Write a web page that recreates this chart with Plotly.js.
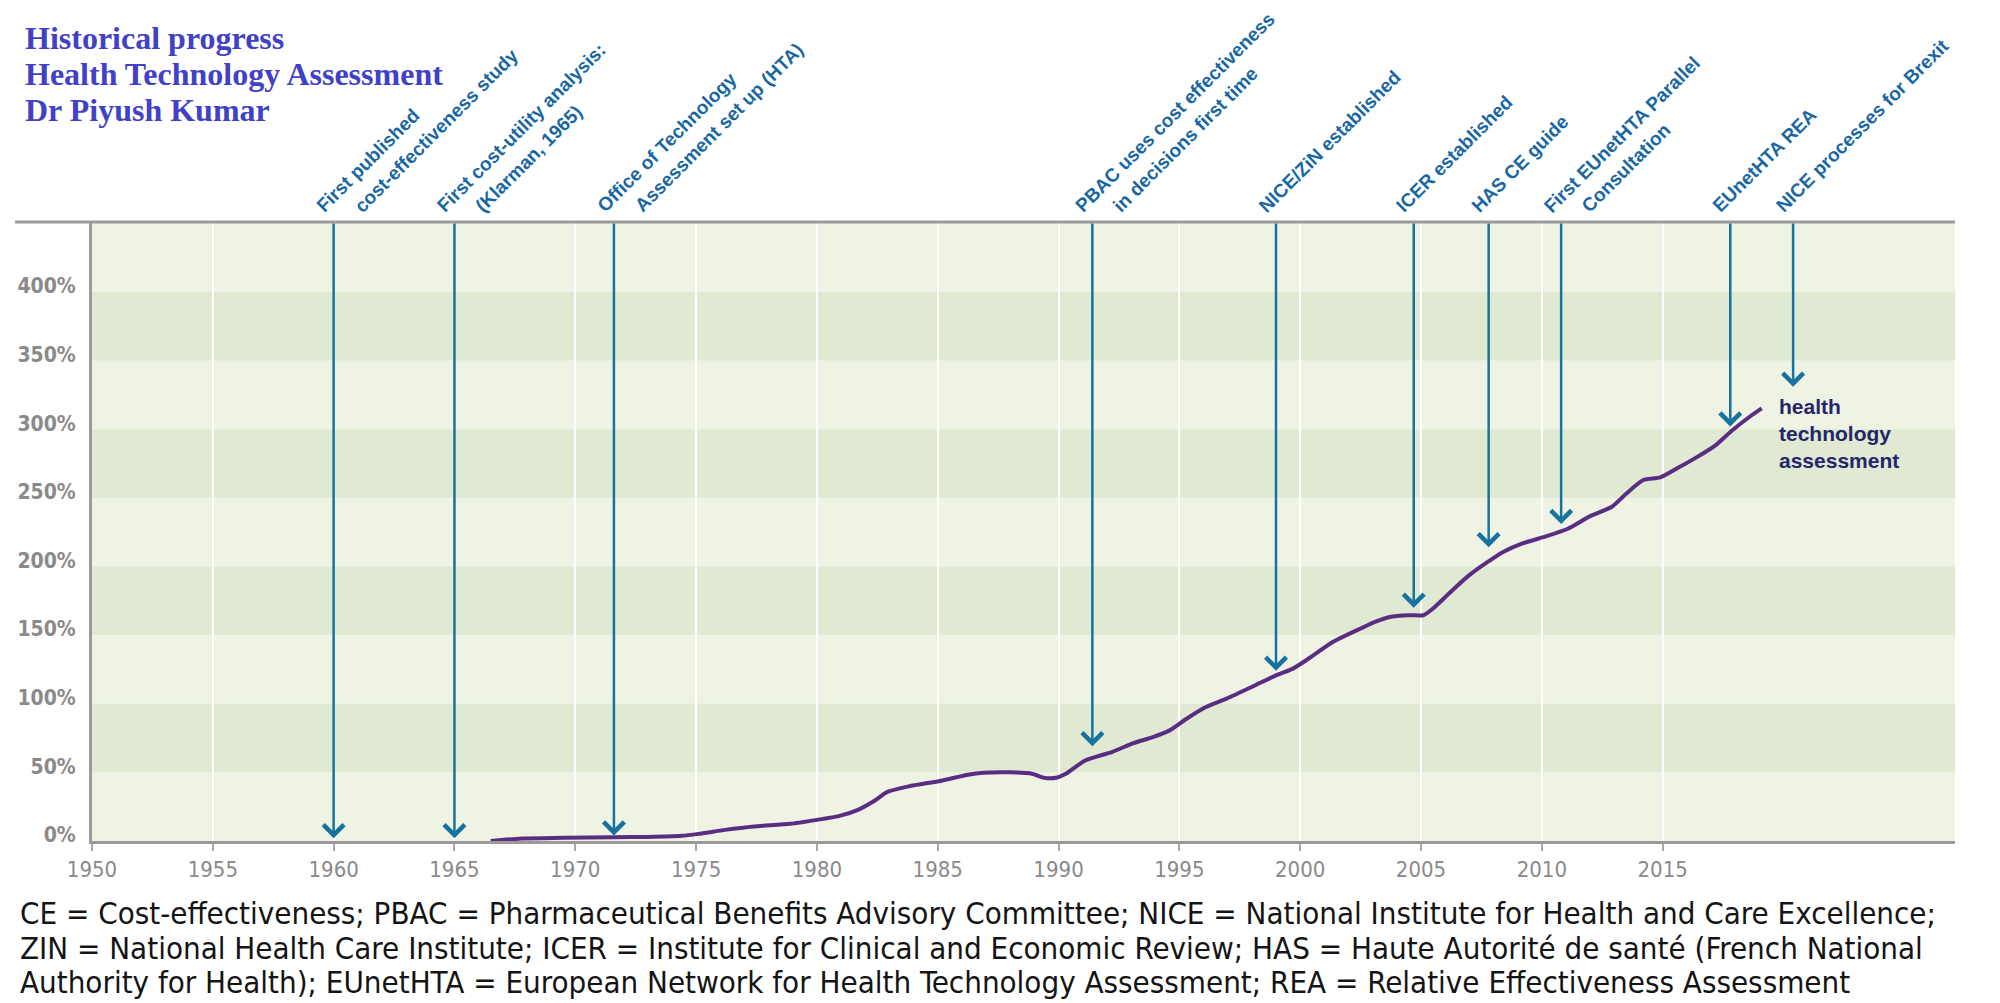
<!DOCTYPE html>
<html>
<head>
<meta charset="utf-8">
<script src="https://cdn.plot.ly/plotly-3.0.1.min.js"></script>
<style>html,body{margin:0;padding:0;background:#fff;}#chart{width:2000px;height:1003px;}</style>
</head>
<body>
<div id="chart"></div>
<script>
// ---- data ----
const years = [1966.5, 1967.8, 1969.5, 1971.6, 1973.0, 1974.4, 1975.1, 1976.2, 1977.4, 1978.9, 1980.0, 1980.9, 1981.7, 1982.4, 1982.9, 1983.8, 1985.2, 1986.25, 1986.9, 1988.0, 1988.9, 1989.4, 1989.9, 1990.3, 1991.1, 1992.2, 1993.1, 1993.9, 1994.6, 1995.3, 1996.1, 1996.95, 1998.05, 1999.0, 1999.7, 2000.25, 2001.35, 2002.5, 2003.1, 2003.7, 2004.5, 2005.1, 2005.5, 2006.3, 2007.0, 2007.7, 2008.4, 2009.2, 2010.2, 2011.1, 2012.0, 2012.9, 2013.5, 2014.2, 2014.9, 2015.6, 2016.4, 2017.2, 2017.9, 2018.6, 2019.1];
const htaValues = [0, 1.8, 2.3, 2.8, 3.0, 3.8, 5.2, 8.1, 10.6, 12.5, 15.4, 18.1, 22.7, 29.5, 35.6, 39.8, 44.1, 48.3, 49.7, 50, 49, 46.1, 46.1, 49, 58.7, 64.8, 71.3, 75.7, 80.6, 89.1, 97.6, 103.7, 112.7, 120.7, 125.6, 131.7, 145, 154.8, 159.6, 163.2, 164.5, 164.5, 169.4, 182.7, 193.7, 202.6, 210.6, 216.8, 222.1, 227.7, 236.7, 243.5, 253.2, 263, 264.9, 271.5, 279.5, 288.5, 299.4, 309.1, 315.2];

const eventYears = [1960, 1965, 1971.6, 1991.4, 1999.0, 2004.7, 2007.8, 2010.8, 2017.8, 2020.4];
const eventTips  = [2, 2, 4, 69, 124, 170, 214, 231, 302, 331];
const eventLine1 = ["First published", "First cost-utility analysis:", "Office of Technology", "PBAC uses cost effectiveness", "NICE/ZiN established", "ICER established", "HAS CE guide", "First EUnetHTA Parallel", "EUnetHTA REA", "NICE processes for Brexit"];
const eventLine2 = ["cost-effectiveness study", "(Klarman, 1965)", "Assessment set up (HTA)", "in decisions first time", "", "", "", "Consultation", "", ""];

const xTickYears = [1950, 1955, 1960, 1965, 1970, 1975, 1980, 1985, 1990, 1995, 2000, 2005, 2010, 2015];
const yTickValues = [0, 50, 100, 150, 200, 250, 300, 350, 400];
const yTickText = yTickValues.map(v => v + "%");
const darkBands = [[50, 100], [150, 200], [250, 300], [350, 400]];

const seriesLabel = ["health", "technology", "assessment"];
const titleLines = ["Historical progress", "Health Technology Assessment", "Dr Piyush Kumar"];
const footerLines = [
  "CE = Cost-effectiveness; PBAC = Pharmaceutical Benefits Advisory Committee; NICE = National Institute for Health and Care Excellence;",
  "ZIN = National Health Care Institute; ICER = Institute for Clinical and Economic Review; HAS = Haute Autorité de santé (French National",
  "Authority for Health); EUnetHTA = European Network for Health Technology Assessment; REA = Relative Effectiveness Assessment"
];

// ---- styles ----
const COND = "DejaVu Sans Condensed, DejaVu Sans, sans-serif";
const LABEL_FONT = "Liberation Sans, Arial, sans-serif";
const Y_TOP = 451;
const arrowColor = "#17729f";
const labelColor = "#1867a3";

const shapes = [];
darkBands.forEach(b => shapes.push({
  type: "rect", xref: "paper", yref: "y", x0: 0, x1: 1, y0: b[0], y1: b[1],
  fillcolor: "#e0ead2", line: {width: 0}, layer: "below"
}));
shapes.push({type: "line", xref: "paper", yref: "paper", x0: -0.0413, x1: 1, y0: 1, y1: 1,
  line: {color: "#9a9a9a", width: 3}});

const annotations = [];
eventYears.forEach((yr, i) => {
  annotations.push({
    x: yr, y: eventTips[i], xref: "x", yref: "y",
    ax: yr, ay: Y_TOP, axref: "x", ayref: "y",
    showarrow: true, arrowhead: 4, arrowsize: 1.6, arrowwidth: 2.5,
    arrowcolor: arrowColor, text: "", standoff: 0
  });
  annotations.push({
    x: yr, y: 1, xref: "x", yref: "paper", xanchor: "left", yanchor: "bottom",
    xshift: -24, yshift: 3, textangle: -45, showarrow: false,
    text: eventLine1[i], font: {family: LABEL_FONT, size: 19, color: labelColor, weight: 700}
  });
  if (eventLine2[i]) {
    annotations.push({
      x: yr, y: 1, xref: "x", yref: "paper", xanchor: "left", yanchor: "bottom",
      xshift: 14, yshift: 3, textangle: -45, showarrow: false,
      text: eventLine2[i], font: {family: LABEL_FONT, size: 19, color: labelColor, weight: 700}
    });
  }
});

seriesLabel.forEach((t, i) => annotations.push({
  x: 2019.74, y: 316.5, xref: "x", yref: "y", xanchor: "left", yanchor: "middle",
  yshift: -26.7 * i, showarrow: false, text: t,
  font: {family: LABEL_FONT, size: 21, color: "#25256b", weight: 700}
}));

const titleY = [1.2968, 1.2391, 1.1814];
titleLines.forEach((t, i) => annotations.push({
  x: -0.037, y: titleY[i], xref: "paper", yref: "paper", xanchor: "left", yanchor: "middle",
  showarrow: false, text: t,
  font: {family: "Liberation Serif, Times New Roman, serif", size: 32, color: "#4141c6", weight: 700}
}));

const footY = [-0.1163, -0.1729, -0.2278];
footerLines.forEach((t, i) => annotations.push({
  x: -0.0397, y: footY[i], xref: "paper", yref: "paper", xanchor: "left", yanchor: "middle",
  showarrow: false, text: t,
  font: {family: COND, size: 31, color: "#141414"}
}));

const trace = {
  x: years, y: htaValues, type: "scatter", mode: "lines",
  line: {color: "#5a2c82", width: 4, shape: "spline", smoothing: 0.6},
  cliponaxis: false, hoverinfo: "skip", showlegend: false
};

const layout = {
  width: 2000, height: 1003,
  margin: {l: 92, r: 45, t: 222, b: 162, pad: 0},
  paper_bgcolor: "#ffffff", plot_bgcolor: "#eef3e3",
  showlegend: false,
  xaxis: {
    range: [1950, 2027.1], tickvals: xTickYears, tickformat: "d",
    ticks: "outside", ticklen: 7, tickwidth: 2, tickcolor: "#a8a8a8",
    showgrid: true, gridcolor: "#ffffff", gridwidth: 2,
    showline: true, linecolor: "#9a9a9a", linewidth: 3, zeroline: false,
    tickfont: {family: COND, size: 22, color: "#8a8a8a"},
    ticklabelstandoff: 0, fixedrange: true
  },
  yaxis: {
    range: [0, Y_TOP], tickvals: yTickValues, ticktext: yTickText, tickmode: "array",
    ticks: "", showgrid: false, zeroline: false,
    showline: true, linecolor: "#9a9a9a", linewidth: 3,
    tickfont: {family: COND, size: 21, color: "#8a8a8a", weight: 700},
    ticklabelstandoff: 9, ticklabelshift: -6, fixedrange: true
  },
  shapes: shapes,
  annotations: annotations
};

Plotly.newPlot("chart", [trace], layout, {staticPlot: true, displayModeBar: false});
</script>
</body>
</html>
